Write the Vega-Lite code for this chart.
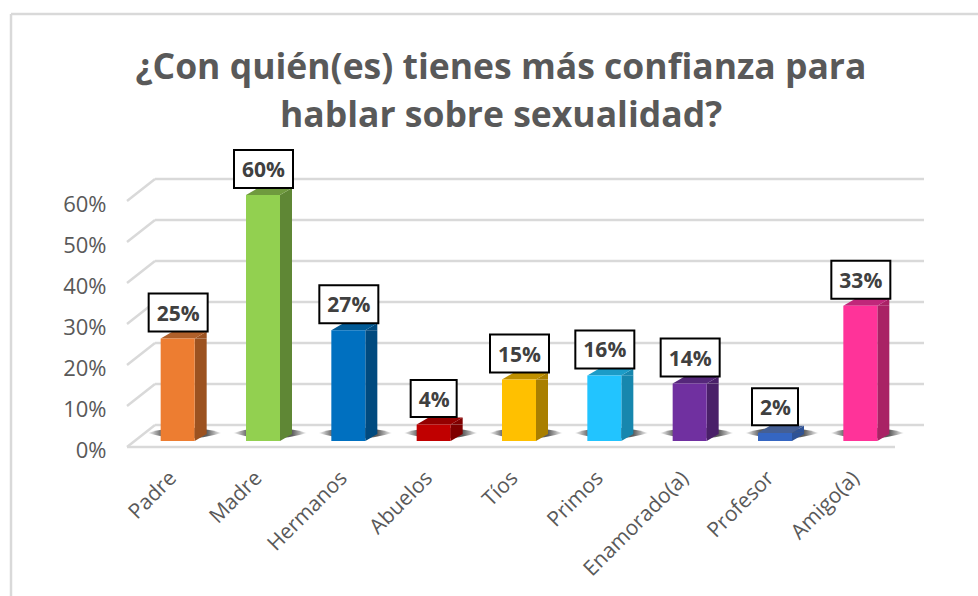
{
"$schema":"https://vega.github.io/schema/vega-lite/v6.json",
"autosize":{"type":"none"},
"padding":{"left":127,"top":201,"right":83,"bottom":149},
"width":768,"height":246,
"background":"white",
"title":{"text":["¿Con quién(es) tienes más confianza para","hablar sobre sexualidad?"],"font":"Open Sans","fontSize":35.5,"fontWeight":"bold","color":"#595959","lineHeight":48,"anchor":"middle","frame":"group","dx":-10,"offset":0,"dy":122},
"datasets":{
"respuestas":[
{"persona":"Padre","valor":0.25},{"persona":"Madre","valor":0.60},{"persona":"Hermanos","valor":0.27},{"persona":"Abuelos","valor":0.04},{"persona":"Tíos","valor":0.15},{"persona":"Primos","valor":0.16},{"persona":"Enamorado(a)","valor":0.14},{"persona":"Profesor","valor":0.02},{"persona":"Amigo(a)","valor":0.33}],
"pared":[
{"a":0,"b":28,"y":0,"y2":0.0537},{"a":0,"b":28,"y":0.1,"y2":0.1537},{"a":0,"b":28,"y":0.2,"y2":0.2537},{"a":0,"b":28,"y":0.3,"y2":0.3537},{"a":0,"b":28,"y":0.4,"y2":0.4537},{"a":0,"b":28,"y":0.5,"y2":0.5537},{"a":0,"b":28,"y":0.6,"y2":0.6537},
{"a":28,"b":797,"y":0.0537,"y2":0.0537},{"a":28,"b":797,"y":0.1537,"y2":0.1537},{"a":28,"b":797,"y":0.2537,"y2":0.2537},{"a":28,"b":797,"y":0.3537,"y2":0.3537},{"a":28,"b":797,"y":0.4537,"y2":0.4537},{"a":28,"b":797,"y":0.5537,"y2":0.5537},{"a":28,"b":797,"y":0.6537,"y2":0.6537},
{"a":0,"b":768,"y":0,"y2":0},
{"a":-116,"b":851,"y":1.056,"y2":1.056},{"a":-116,"b":-116,"y":1.056,"y2":-0.605}]
},
"layer":[
{"data":{"name":"pared"},"mark":{"type":"rule","color":"#d9d9d9","strokeWidth":2.5},
"encoding":{"x":{"field":"a","type":"quantitative","scale":{"domain":[0,768]},"axis":null},"x2":{"field":"b"},
"y":{"field":"y","type":"quantitative","scale":{"domain":[0,0.6],"nice":false},"axis":{"format":".0%","values":[0,0.1,0.2,0.3,0.4,0.5,0.6],"title":null,"grid":false,"domain":false,"ticks":false,"labelFont":"Open Sans","labelFontSize":22,"labelColor":"#595959","labelPadding":21,"labelOffset":3}},"y2":{"field":"y2"}}},
{"data":{"name":"respuestas"},
"encoding":{
"x":{"field":"persona","type":"nominal","sort":null,"scale":{"paddingInner":0,"paddingOuter":0},"axis":{"title":null,"domain":false,"ticks":false,"grid":false,"labelAngle":-45,"labelFont":"Open Sans","labelFontSize":21,"labelColor":"#595959","labelPadding":20,"labelOffset":-4,"labelOverlap":false}},
"y":{"field":"valor","type":"quantitative","scale":{"domain":[0,0.6],"nice":false}}
},
"layer":[
{"mark":{"type":"point","shape":"M-30,0 Q7,-11 44,0 Q7,11 -30,0Z","size":4,"filled":true,"opacity":1,"xOffset":8,"yOffset":-14,"fill":{"gradient":"linear","x1":0,"y1":0,"x2":1,"y2":0,"stops":[{"offset":0,"color":"rgba(40,40,40,0)"},{"offset":0.2,"color":"rgba(40,40,40,0.75)"},{"offset":0.8,"color":"rgba(40,40,40,0.75)"},{"offset":1,"color":"rgba(40,40,40,0)"}]}},
"encoding":{"y":{"datum":0,"type":"quantitative","scale":{"domain":[0,0.6],"nice":false}}}},
{"mark":{"type":"bar","width":12,"xOffset":31,"yOffset":-6,"y2Offset":-13},
"encoding":{"y2":{"datum":0},"color":{"field":"persona","type":"nominal","sort":null,"legend":null,"scale":{"domain":["Padre","Madre","Hermanos","Abuelos","Tíos","Primos","Enamorado(a)","Profesor","Amigo(a)"],"range":["#9C5220","#5F8735","#004A7F","#7F0000","#A97F00","#1787AE","#4A2069","#2E5296","#A92265"]}}}},
{"mark":{"type":"point","shape":"M17,0L29,-7L29,0Z","size":4,"filled":true,"opacity":1,"xOffset":8,"yOffset":-6},
"encoding":{"color":{"field":"persona","type":"nominal","sort":null,"legend":null,"scale":{"domain":["Padre","Madre","Hermanos","Abuelos","Tíos","Primos","Enamorado(a)","Profesor","Amigo(a)"],"range":["#9C5220","#5F8735","#004A7F","#7F0000","#A97F00","#1787AE","#4A2069","#2E5296","#A92265"]}}}},
{"mark":{"type":"point","shape":"M17,0L29,-7L17,-7Z","size":4,"filled":true,"opacity":1,"xOffset":8,"yOffset":-6},
"encoding":{"y":{"datum":0,"type":"quantitative","scale":{"domain":[0,0.6],"nice":false}},"color":{"field":"persona","type":"nominal","sort":null,"legend":null,"scale":{"domain":["Padre","Madre","Hermanos","Abuelos","Tíos","Primos","Enamorado(a)","Profesor","Amigo(a)"],"range":["#9C5220","#5F8735","#004A7F","#7F0000","#A97F00","#1787AE","#4A2069","#2E5296","#A92265"]}}}},
{"mark":{"type":"point","shape":"M-17,0L17,0L29,-7L-5,-7Z","size":4,"filled":true,"opacity":1,"xOffset":8,"yOffset":-6},
"encoding":{"color":{"field":"persona","type":"nominal","sort":null,"legend":null,"scale":{"domain":["Padre","Madre","Hermanos","Abuelos","Tíos","Primos","Enamorado(a)","Profesor","Amigo(a)"],"range":["#B0602A","#6F9A3E","#005A96","#940000","#BF9000","#1C9CC8","#55277A","#445F95","#C0277A"]}}}},
{"mark":{"type":"bar","width":34,"xOffset":8,"yOffset":-6,"y2Offset":-6},
"encoding":{"y2":{"datum":0},"color":{"field":"persona","type":"nominal","sort":null,"legend":null,"scale":{"domain":["Padre","Madre","Hermanos","Abuelos","Tíos","Primos","Enamorado(a)","Profesor","Amigo(a)"],"range":["#ED7D31","#92D050","#0070C0","#C00000","#FFC000","#22C4FF","#7030A0","#3566C2","#FF3399"]}}}},
{"transform":[{"filter":"datum.valor >= 0.1"}],"mark":{"type":"point","shape":"M-29.5,-19H29.5V19H-29.5Z","size":4,"filled":false,"fill":"white","fillOpacity":1,"opacity":1,"stroke":"black","strokeWidth":2,"xOffset":8.5,"yOffset":-32}},
{"transform":[{"filter":"datum.valor < 0.1"}],"mark":{"type":"point","shape":"M-23,-18.5H23V18.5H-23Z","size":4,"filled":false,"fill":"white","fillOpacity":1,"opacity":1,"stroke":"black","strokeWidth":2,"xOffset":8,"yOffset":-32}},
{"mark":{"type":"text","font":"Open Sans","fontSize":21,"fontWeight":"bold","color":"#404040","xOffset":8.5,"yOffset":-30,"baseline":"middle"},
"encoding":{"text":{"field":"valor","type":"quantitative","format":".0%"}}}
],
"resolve":{"scale":{"color":"independent"}}}
],
"resolve":{"scale":{"x":"independent"}},
"config":{"view":{"stroke":null}}
}
